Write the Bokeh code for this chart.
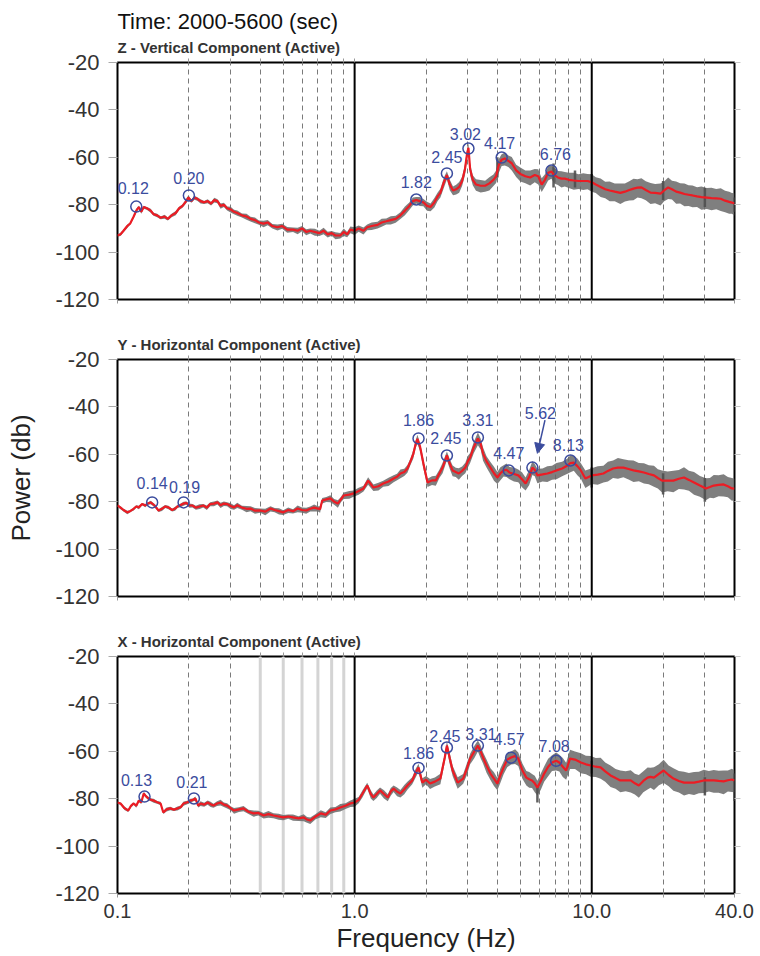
from bokeh.plotting import figure
from bokeh.layouts import column
from bokeh.models import (Range1d, FixedTicker, LogAxis, LinearAxis, Span, Title,
                          PrintfTickFormatter, ColumnDataSource, Arrow, NormalHead)
from bokeh.embed import file_html
from bokeh.resources import INLINE
from bokeh.core.properties import value

# ---------------- data ----------------
time_title = "Time: 2000-5600 (sec)"
subtitles = ["Z - Vertical Component (Active)",
             "Y - Horizontal Component (Active)",
             "X - Horizontal Component (Active)"]
x_label = "Frequency (Hz)"
y_label = "Power (db)"
x_tick_labels = [0.1, 1.0, 10.0, 40.0]
x_minor_ticks = [0.2, 0.3, 0.4, 0.5, 0.6, 0.7, 0.8, 0.9,
                 2, 3, 4, 5, 6, 7, 8, 9, 20, 30]
y_ticks = [-120, -100, -80, -60, -40, -20]

# Z component
z_freq = [0.100, 0.103, 0.106, 0.110, 0.113, 0.117, 0.120, 0.123, 0.126, 0.129,
          0.133, 0.138, 0.142, 0.147, 0.152, 0.158, 0.163, 0.169, 0.176, 0.182,
          0.188, 0.193, 0.199, 0.205, 0.211, 0.217, 0.224, 0.232, 0.240, 0.248,
          0.256, 0.264, 0.272, 0.281, 0.290, 0.300, 0.310, 0.320, 0.335, 0.350,
          0.364, 0.380, 0.395, 0.413, 0.430, 0.450, 0.473, 0.495, 0.520, 0.550,
          0.575, 0.600, 0.625, 0.650, 0.680, 0.710, 0.740, 0.770, 0.800, 0.830,
          0.870, 0.900, 0.930, 0.960, 1.00, 1.04, 1.09, 1.13, 1.18, 1.25,
          1.30, 1.36, 1.42, 1.49, 1.56, 1.63, 1.70, 1.76, 1.82, 1.88,
          1.95, 2.02, 2.09, 2.17, 2.24, 2.30, 2.38, 2.45, 2.52, 2.60,
          2.68, 2.76, 2.84, 2.92, 2.98, 3.02, 3.07, 3.15, 3.25, 3.40,
          3.55, 3.70, 3.85, 3.95, 4.05, 4.17, 4.30, 4.45, 4.60, 4.80,
          5.00, 5.25, 5.50, 5.75, 5.95, 6.15, 6.35, 6.55, 6.76, 6.95,
          7.20, 7.45, 7.70, 8.00, 8.40, 8.80, 9.20, 9.60, 10.0, 10.4,
          10.9, 11.4, 11.9, 12.5, 13.2, 13.8, 14.4, 15.0, 15.6, 16.2,
          16.9, 17.7, 18.5, 19.5, 20.2, 21.0, 21.8, 22.7, 23.6, 24.6,
          25.6, 26.6, 27.8, 29.0, 30.6, 32.0, 33.5, 35.0, 36.5, 38.0,
          39.0, 40.0]
z_power = [-93.0, -92.5, -91.0, -89.0, -88.0, -85.0, -82.5, -81.0, -83.0, -81.0,
           -81.5, -82.5, -84.0, -84.5, -85.5, -85.0, -86.0, -84.5, -83.5, -81.5,
           -80.5, -79.0, -77.0, -78.5, -77.0, -77.5, -78.5, -79.0, -78.5, -79.5,
           -78.0, -78.5, -80.5, -80.0, -81.5, -82.0, -83.0, -83.5, -84.5, -85.0,
           -86.0, -86.5, -87.5, -88.0, -87.5, -89.0, -89.5, -89.0, -90.5, -90.5,
           -91.0, -90.0, -91.5, -91.0, -91.5, -92.0, -91.0, -92.5, -92.0, -93.0,
           -93.0, -91.5, -92.5, -90.5, -91.0, -90.0, -91.0, -89.5, -89.0, -88.5,
           -87.5, -87.0, -86.5, -86.0, -84.5, -82.5, -80.5, -78.5, -78.0, -78.5,
           -79.0, -80.5, -81.0, -79.0, -76.5, -75.0, -70.5, -67.5, -71.5, -74.0,
           -73.5, -72.5, -70.0, -65.0, -58.5, -56.0, -65.0, -69.5, -71.5, -72.0,
           -72.0, -71.0, -69.5, -68.0, -63.5, -61.0, -60.5, -61.5, -62.5, -65.5,
           -67.0, -68.0, -68.5, -67.5, -68.0, -71.5, -69.5, -66.5, -66.0, -67.5,
           -68.5, -69.0, -69.0, -69.5, -69.8, -70.0, -70.0, -70.0, -70.5, -71.5,
           -72.5, -73.5, -74.0, -74.5, -75.0, -74.5, -73.8, -73.2, -72.8, -72.7,
           -73.8, -74.9, -75.0, -75.3, -74.0, -72.7, -73.5, -74.5, -74.9, -75.5,
           -75.8, -76.1, -76.5, -76.8, -77.0, -77.2, -77.3, -77.5, -78.3, -78.8,
           -79.1, -79.5]
z_spread = [0.5, 0.7, 0.6, 0.8, 0.5, 0.7, 0.9, 0.6, 0.8, 0.7,
            0.6, 0.9, 0.7, 0.8, 0.6, 0.9, 0.7, 0.8, 1.0, 0.7,
            0.8, 0.9, 1.1, 0.7, 0.9, 0.8, 1.0, 0.7, 0.9, 0.8,
            1.1, 0.9, 1.2, 1.0, 0.9, 1.3, 1.0, 1.2, 0.9, 1.4,
            1.1, 1.3, 1.0, 1.5, 1.2, 1.0, 1.4, 1.1, 1.3, 1.0,
            1.5, 1.2, 1.4, 1.1, 1.6, 1.2, 1.5, 1.3, 1.1, 1.6,
            1.3, 1.7, 1.2, 1.5, 1.8, 1.4, 1.6, 1.3, 1.7, 1.5,
            1.8, 1.4, 1.9, 1.6, 1.5, 2.0, 1.7, 1.8, 1.5, 2.0,
            1.7, 2.1, 1.8, 2.2, 1.9, 2.0, 2.3, 1.9, 2.4, 2.0,
            2.2, 2.5, 2.1, 2.6, 2.2, 2.4, 2.7, 2.3, 2.6, 2.9,
            2.5, 3.0, 2.6, 2.8, 3.2, 2.7, 3.0, 2.6, 3.1, 2.8,
            3.2, 2.9, 3.4, 3.0, 3.5, 3.1, 2.8, 3.3, 3.0, 3.6,
            3.2, 3.7, 3.3, 3.5, 3.9, 3.4, 3.8, 3.5, 4.0, 3.6,
            4.2, 3.8, 4.5, 4.0, 4.7, 4.1, 4.4, 4.9, 4.2, 4.6,
            4.3, 4.8, 4.4, 5.0, 4.5, 4.9, 4.3, 5.1, 4.6, 5.2,
            4.7, 5.0, 4.5, 5.3, 4.8, 5.1, 4.6, 5.2, 4.9, 5.0,
            4.7, 5.1]
z_spike_freq = [4.0, 6.9, 8.5, 10.0, 20.0, 30.0, 40.0]
z_spike_lo = [-68.5, -72.7, -72.7, -74.0, -78.0, -81.0, -83.0]
z_spike_hi = [-60.0, -62.6, -65.6, -67.0, -70.0, -73.0, -77.0]
z_peak_freq = [0.12, 0.20, 1.82, 2.45, 3.02, 4.17, 6.76]
z_peak_db = [-80.8, -76.1, -77.8, -66.8, -56.3, -60.1, -65.6]
z_peak_text = ["0.12", "0.20", "1.82", "2.45", "3.02", "4.17", "6.76"]

# Y component
y_freq = [0.100, 0.103, 0.106, 0.110, 0.113, 0.117, 0.120, 0.123, 0.127, 0.131,
          0.134, 0.138, 0.143, 0.149, 0.154, 0.159, 0.164, 0.170, 0.175, 0.179,
          0.184, 0.190, 0.195, 0.201, 0.207, 0.214, 0.222, 0.230, 0.238, 0.246,
          0.255, 0.264, 0.272, 0.281, 0.290, 0.300, 0.310, 0.320, 0.335, 0.350,
          0.364, 0.380, 0.400, 0.420, 0.442, 0.460, 0.480, 0.500, 0.525, 0.550,
          0.575, 0.600, 0.625, 0.650, 0.675, 0.700, 0.715, 0.730, 0.760, 0.790,
          0.820, 0.850, 0.875, 0.900, 0.950, 0.990, 1.04, 1.09, 1.14, 1.20,
          1.26, 1.32, 1.39, 1.46, 1.51, 1.56, 1.62, 1.67, 1.72, 1.77,
          1.81, 1.84, 1.89, 1.95, 2.03, 2.12, 2.20, 2.28, 2.35, 2.45,
          2.52, 2.59, 2.67, 2.75, 2.84, 2.93, 3.00, 3.07, 3.18, 3.31,
          3.40, 3.48, 3.60, 3.74, 3.87, 4.00, 4.12, 4.25, 4.37, 4.50,
          4.70, 4.90, 5.08, 5.26, 5.45, 5.62, 5.75, 5.90, 6.20, 6.50,
          6.80, 7.10, 7.50, 7.90, 8.13, 8.40, 8.70, 9.00, 9.40, 10.0,
          10.6, 11.2, 11.7, 12.3, 12.9, 13.6, 14.3, 15.0, 15.8, 16.6,
          17.4, 18.3, 19.0, 19.8, 20.9, 22.1, 23.3, 24.5, 25.7, 27.0,
          28.6, 30.3, 31.5, 32.7, 34.3, 36.0, 37.5, 39.0, 40.0]
y_power = [-81.6, -82.5, -83.5, -84.5, -84.0, -83.0, -82.0, -82.4, -81.0, -81.6,
           -80.8, -80.3, -81.5, -83.7, -83.0, -82.0, -82.4, -83.5, -82.9, -82.0,
           -81.5, -80.8, -80.5, -81.6, -81.6, -82.5, -82.0, -81.6, -82.5, -81.0,
           -80.8, -80.3, -81.5, -80.8, -81.0, -81.8, -82.4, -81.5, -82.5, -83.0,
           -82.9, -83.8, -83.7, -84.2, -82.9, -83.5, -84.0, -84.5, -83.5, -84.0,
           -82.9, -83.5, -83.7, -83.0, -82.5, -82.9, -83.2, -79.5, -79.0, -78.6,
           -80.0, -80.8, -79.0, -77.4, -77.0, -76.5, -75.5, -74.4, -71.1, -74.0,
           -73.5, -72.3, -71.5, -70.2, -69.5, -68.1, -67.5, -66.0, -63.0, -59.7,
           -55.5, -53.5, -57.0, -63.9, -71.9, -71.0, -71.0, -68.0, -65.6, -60.5,
           -64.0, -66.8, -67.5, -68.1, -67.0, -65.6, -63.0, -61.4, -57.0, -53.3,
           -55.5, -59.7, -63.0, -65.6, -68.0, -69.8, -68.0, -66.8, -66.5, -67.7,
           -68.3, -68.9, -70.5, -72.3, -69.5, -65.6, -66.5, -68.9, -68.5, -68.1,
           -67.5, -66.8, -66.0, -64.7, -63.7, -63.5, -65.0, -66.8, -70.2, -68.9,
           -68.6, -68.1, -67.0, -66.0, -65.6, -65.6, -66.2, -66.8, -67.2, -67.7,
           -68.3, -68.9, -70.0, -71.1, -71.1, -71.1, -70.3, -69.8, -70.8, -71.9,
           -73.2, -74.4, -73.8, -73.2, -72.9, -72.7, -73.5, -74.4, -74.5]
y_spread = [0.5, 0.7, 0.6, 0.8, 0.5, 0.7, 0.6, 0.8, 0.5, 0.7,
            0.6, 0.8, 0.7, 0.6, 0.9, 0.7, 0.8, 0.6, 0.9, 0.7,
            0.8, 0.9, 0.7, 1.0, 0.8, 0.9, 1.1, 0.8, 1.0, 0.9,
            1.1, 0.9, 1.2, 1.0, 0.9, 1.3, 1.0, 1.2, 0.9, 1.4,
            1.1, 1.3, 1.0, 1.5, 1.2, 1.0, 1.4, 1.1, 1.3, 1.0,
            1.5, 1.2, 1.4, 1.1, 1.6, 1.2, 1.5, 1.3, 1.1, 1.6,
            1.3, 1.7, 1.2, 1.5, 1.8, 1.4, 1.6, 1.3, 1.7, 1.5,
            1.8, 1.4, 1.9, 1.6, 1.5, 2.0, 1.7, 1.8, 1.5, 2.0,
            1.7, 2.1, 1.8, 2.2, 1.9, 2.0, 2.3, 1.9, 2.4, 2.0,
            2.2, 2.5, 2.1, 2.6, 2.2, 2.4, 2.7, 2.3, 2.6, 2.9,
            2.5, 3.0, 2.6, 2.8, 3.2, 2.7, 3.0, 2.6, 3.1, 2.8,
            3.2, 2.9, 3.4, 3.0, 3.5, 3.1, 2.8, 3.3, 3.0, 3.6,
            3.2, 3.7, 3.3, 3.5, 3.9, 3.4, 3.8, 3.5, 4.0, 3.6,
            4.2, 3.8, 4.5, 4.0, 4.7, 4.1, 4.4, 4.9, 4.2, 4.6,
            4.3, 4.8, 4.4, 5.0, 4.5, 4.9, 4.3, 5.1, 4.6, 5.2,
            4.7, 5.0, 4.5, 5.3, 4.8, 5.1, 4.6, 5.2, 4.9]
y_spike_freq = [10.0, 20.0, 30.0]
y_spike_lo = [-74.0, -77.0, -80.0]
y_spike_hi = [-65.6, -68.0, -70.0]
y_peak_freq = [0.14, 0.19, 1.86, 2.45, 3.31, 4.47, 5.62, 8.13]
y_peak_db = [-80.3, -80.3, -53.3, -60.5, -52.9, -66.8, -65.6, -62.6]
y_peak_text = ["0.14", "0.19", "1.86", "2.45", "3.31", "4.47", "5.62", "8.13"]

# X component
x_freq = [0.100, 0.103, 0.107, 0.111, 0.114, 0.117, 0.120, 0.123, 0.126, 0.129,
          0.132, 0.135, 0.139, 0.142, 0.147, 0.152, 0.156, 0.161, 0.167, 0.173,
          0.179, 0.185, 0.190, 0.197, 0.203, 0.208, 0.213, 0.219, 0.224, 0.232,
          0.240, 0.247, 0.254, 0.263, 0.272, 0.281, 0.290, 0.300, 0.310, 0.325,
          0.340, 0.357, 0.375, 0.393, 0.413, 0.433, 0.455, 0.478, 0.500, 0.525,
          0.550, 0.580, 0.610, 0.630, 0.650, 0.685, 0.720, 0.755, 0.790, 0.830,
          0.870, 0.915, 0.960, 1.00, 1.04, 1.08, 1.13, 1.17, 1.20, 1.24,
          1.28, 1.33, 1.38, 1.42, 1.46, 1.51, 1.56, 1.62, 1.67, 1.75,
          1.80, 1.86, 1.93, 2.00, 2.08, 2.18, 2.30, 2.40, 2.45, 2.52,
          2.59, 2.72, 2.87, 2.97, 3.07, 3.20, 3.31, 3.40, 3.48, 3.60,
          3.74, 3.87, 4.00, 4.12, 4.25, 4.40, 4.57, 4.75, 4.90, 5.10,
          5.30, 5.45, 5.60, 5.75, 5.90, 6.10, 6.30, 6.55, 6.80, 7.08,
          7.30, 7.55, 7.80, 8.10, 8.50, 9.00, 9.45, 9.90, 10.4, 10.9,
          11.4, 12.0, 12.6, 13.2, 13.9, 14.6, 15.2, 15.8, 16.5, 17.2,
          17.7, 18.3, 19.2, 20.1, 21.1, 22.1, 23.3, 24.5, 25.7, 27.0,
          28.3, 29.7, 31.2, 32.7, 34.3, 36.0, 37.5, 39.0, 40.0]
x_power = [-81.6, -82.0, -84.0, -85.0, -83.0, -82.0, -83.0, -80.8, -81.5, -77.8,
           -79.0, -79.9, -80.5, -80.8, -81.5, -82.0, -85.8, -84.5, -84.1, -84.6,
           -84.1, -83.5, -82.0, -81.5, -80.8, -80.5, -79.9, -82.9, -82.0, -82.5,
           -81.6, -82.3, -82.9, -82.0, -81.6, -82.5, -82.9, -84.0, -85.0, -84.5,
           -84.1, -85.5, -86.2, -86.0, -87.1, -86.5, -87.1, -87.5, -87.9, -87.5,
           -87.9, -88.3, -87.9, -88.8, -89.2, -87.5, -86.2, -86.8, -85.0, -84.5,
           -83.7, -83.0, -82.0, -81.6, -80.5, -77.8, -74.4, -78.0, -79.5, -78.0,
           -76.5, -78.0, -79.5, -77.0, -75.7, -77.0, -77.8, -76.0, -74.4, -72.3,
           -69.5, -66.8, -73.2, -72.0, -73.6, -72.8, -71.5, -62.6, -57.6, -63.0,
           -68.1, -73.2, -71.5, -67.5, -63.1, -60.0, -57.6, -60.0, -62.6, -66.0,
           -69.4, -71.5, -73.6, -70.0, -66.8, -63.5, -62.6, -62.0, -63.1, -68.1,
           -71.1, -71.8, -72.3, -73.5, -75.3, -72.5, -69.4, -66.5, -64.7, -64.0,
           -64.7, -66.5, -68.1, -63.1, -63.5, -64.7, -65.5, -66.0, -66.5, -66.8,
           -68.5, -70.2, -71.3, -72.3, -72.3, -72.3, -73.5, -74.4, -72.5, -71.1,
           -70.8, -71.1, -69.5, -68.1, -70.0, -71.5, -72.5, -73.2, -73.2, -73.2,
           -72.8, -72.3, -72.3, -72.3, -72.5, -72.7, -72.2, -71.9, -72.3]
x_spread = [0.6, 0.5, 0.8, 0.6, 0.7, 0.5, 0.8, 0.6, 0.7, 0.9,
            0.6, 0.8, 0.7, 0.9, 0.6, 0.8, 0.7, 0.9, 0.8, 0.6,
            0.9, 0.7, 1.0, 0.8, 0.9, 0.7, 1.0, 0.8, 1.1, 0.9,
            1.0, 1.2, 0.9, 1.1, 1.3, 1.0, 1.2, 0.9, 1.3, 1.1,
            1.2, 1.0, 1.4, 1.1, 1.3, 1.5, 1.1, 1.4, 1.2, 1.0,
            1.4, 1.1, 1.6, 1.3, 1.5, 1.2, 1.6, 1.3, 1.5, 1.2,
            1.7, 1.3, 1.5, 1.8, 1.4, 1.6, 1.3, 1.9, 1.5, 1.7,
            1.4, 1.9, 1.6, 1.8, 1.5, 2.0, 1.7, 2.1, 1.8, 1.6,
            2.0, 1.8, 2.2, 1.9, 2.3, 2.0, 2.4, 2.1, 2.0, 2.5,
            2.3, 2.6, 2.2, 2.7, 2.4, 2.8, 2.5, 2.9, 2.6, 3.0,
            2.7, 3.1, 2.8, 3.3, 2.9, 3.2, 3.0, 3.4, 3.1, 3.5,
            3.3, 3.6, 3.2, 3.8, 3.4, 3.7, 3.5, 4.0, 3.6, 4.1,
            3.8, 4.3, 3.9, 4.4, 4.0, 4.6, 4.2, 4.7, 4.3, 4.8,
            4.4, 4.9, 4.5, 5.0, 4.6, 5.1, 4.7, 5.2, 4.8, 5.0,
            4.6, 5.2, 4.8, 5.3, 4.7, 5.1, 4.9, 5.4, 4.8, 5.2,
            4.9, 5.3, 4.7, 5.2, 5.0, 5.4, 4.8, 5.3, 5.0]
x_spike_freq = [5.9, 10.0, 30.0, 40.0]
x_spike_lo = [-81.6, -69.4, -78.6, -81.0]
x_spike_hi = [-75.0, -64.0, -71.0, -69.4]
x_peak_freq = [0.13, 0.21, 1.86, 2.45, 3.31, 4.57, 7.08]
x_peak_db = [-79.1, -79.9, -67.0, -58.4, -57.6, -62.7, -64.0]
x_peak_text = ["0.13", "0.21", "1.86", "2.45", "3.31", "4.57", "7.08"]

# ---------------- styles ----------------
FONT = "Liberation Sans"
RED = "#ec1c24"
BLUE = "#3b4c9e"
GREY = "#686868"
z_lab_dx = [-3, 0, 0, 0, -3, -2, 4]
z_lab_dy = [-19, -17, -17, -16, -15, -15, -17]
y_lab_dx = [0, 1, 0, -1, 0, 0, 8, -2]
y_lab_dy = [-19, -15, -18, -17, -17, -17, -55, -15]
x_lab_dx = [-8, -2, 0, -2, 3, -2, -2]
x_lab_dy = [-17, -16, -15, -12, -12, -19, -15]


def make_panel(height, top, bottom, subtitle, freq, power, spread,
               sp_f, sp_lo, sp_hi, pk_f, pk_db, pk_txt, dx, dy,
               bottom_labels=False, ylab=None, time_t=None, light_lines=None):
    p = figure(width=760, height=height, x_axis_type="log",
               x_range=Range1d(0.1, 40), y_range=Range1d(-120, -20),
               output_backend="svg", toolbar_location=None,
               min_border_left=117, min_border_right=26,
               min_border_top=top, min_border_bottom=bottom,
               background_fill_color="white", border_fill_color="white")
    p.outline_line_color = "black"
    p.outline_line_width = 2
    p.outline_line_alpha = 1.0

    # grid
    p.ygrid.visible = False
    p.xgrid.ticker = FixedTicker(ticks=x_minor_ticks)
    p.xgrid.grid_line_color = "#7a7a7a"
    p.xgrid.grid_line_dash = "5 4"
    p.xgrid.grid_line_width = 1
    if light_lines:
        for f in light_lines:
            p.add_layout(Span(location=f, dimension="height", line_color="#d4d4d4",
                              line_width=3, level="underlay"))
    for f in (1.0, 10.0):
        p.add_layout(Span(location=f, dimension="height", line_color="black",
                          line_width=2))

    # bottom axis
    ax = p.xaxis[0]
    ax.axis_line_color = None
    ax.major_tick_in = 0
    ax.major_tick_out = 4
    ax.minor_tick_in = 0
    ax.minor_tick_out = 4
    ax.major_tick_line_color = "#999999"
    ax.minor_tick_line_color = "#999999"
    if bottom_labels:
        ax.ticker = FixedTicker(ticks=x_tick_labels, minor_ticks=x_minor_ticks)
        ax.formatter = PrintfTickFormatter(format="%.1f")
        ax.major_label_text_font_size = "20px"
        ax.major_label_text_font = FONT
        ax.major_label_text_color = "#333333"
        ax.major_label_standoff = 6
        ax.axis_label = x_label
        ax.axis_label_text_font_size = "26px"
        ax.axis_label_text_font_style = "normal"
        ax.axis_label_text_font = FONT
        ax.axis_label_text_color = "#222222"
        ax.axis_label_standoff = 2
    else:
        # ticks only: every position as a minor tick, so no labels are drawn
        ax.ticker = FixedTicker(ticks=[], minor_ticks=x_tick_labels + x_minor_ticks)
        ax.major_label_standoff = 0

    # left axis
    ay = p.yaxis[0]
    ay.ticker = FixedTicker(ticks=y_ticks)
    ay.formatter = PrintfTickFormatter(format="%d")
    ay.axis_line_color = None
    ay.major_tick_in = 0
    ay.major_tick_out = 9
    ay.minor_tick_out = 0
    ay.minor_tick_in = 0
    ay.major_tick_line_color = "#aaaaaa"
    ay.major_label_text_font_size = "22px"
    ay.major_label_text_font = FONT
    ay.major_label_text_color = "#333333"
    ay.major_label_standoff = 9
    if ylab:
        ay.axis_label = ylab
        ay.axis_label_text_font_size = "26px"
        ay.axis_label_text_font_style = "normal"
        ay.axis_label_text_font = FONT
        ay.axis_label_text_color = "#222222"
        ay.axis_label_standoff = 16

    # right axis (ticks only)
    ar = LinearAxis(ticker=FixedTicker(ticks=[], minor_ticks=y_ticks), axis_line_color=None,
                    major_tick_in=0, major_tick_out=0, minor_tick_in=0, minor_tick_out=6,
                    minor_tick_line_color="#c8c8c8", major_label_standoff=0)
    p.add_layout(ar, "right")
    # top axis (ticks only)
    at = LogAxis(ticker=FixedTicker(ticks=[], minor_ticks=x_minor_ticks + [1, 10]),
                 axis_line_color=None, major_tick_in=0, major_tick_out=0,
                 minor_tick_in=0, minor_tick_out=4, minor_tick_line_color="#999999",
                 major_label_standoff=0)
    p.add_layout(at, "above")

    p.add_layout(Title(text=subtitle, align="left", text_font_size="15px",
                       text_font_style="bold", text_font=FONT, text_color="#333333",
                       standoff=6), "above")
    if time_t:
        p.add_layout(Title(text=time_t, align="left", text_font_size="22px",
                           text_font_style="normal", text_font=FONT, text_color="#111111",
                           standoff=0), "above")

    lo = [pw - s for pw, s in zip(power, spread)]
    hi = [pw + s * 0.85 for pw, s in zip(power, spread)]
    p.varea(x=freq, y1=lo, y2=hi, fill_color=GREY, fill_alpha=0.85)
    p.segment(x0=sp_f, y0=sp_lo, x1=sp_f, y1=sp_hi, line_color="#505050",
              line_width=2.5, line_alpha=0.9)
    p.line(freq, power, line_color=RED, line_width=2.2)

    src = ColumnDataSource(dict(x=pk_f, y=pk_db, t=pk_txt, dx=dx, dy=dy))
    p.scatter("x", "y", source=src, marker="circle", size=11, fill_color=None,
              line_color=BLUE, line_width=1.5)
    p.text("x", "y", text="t", x_offset="dx", y_offset="dy", source=src,
           text_align="center", text_baseline="middle", text_font=value(FONT),
           text_font_size="16px", text_color=BLUE)
    return p


p1 = make_panel(320, 62, 21, subtitles[0], z_freq, z_power, z_spread,
                z_spike_freq, z_spike_lo, z_spike_hi,
                z_peak_freq, z_peak_db, z_peak_text, z_lab_dx, z_lab_dy,
                time_t=time_title)
p2 = make_panel(297, 39, 21, subtitles[1], y_freq, y_power, y_spread,
                y_spike_freq, y_spike_lo, y_spike_hi,
                y_peak_freq, y_peak_db, y_peak_text, y_lab_dx, y_lab_dy,
                ylab=y_label)
# arrow from the 5.62 label down to its peak
i562 = y_peak_text.index("5.62")
f0, d0 = y_peak_freq[i562], y_peak_db[i562]
p2.add_layout(Arrow(end=NormalHead(size=10, fill_color=BLUE, line_color=BLUE),
                    x_start=f0 * 1.13, y_start=d0 + 20, x_end=f0 * 1.05, y_end=d0 + 6,
                    line_color=BLUE, line_width=1.5))
p3 = make_panel(339, 39, 63, subtitles[2], x_freq, x_power, x_spread,
                x_spike_freq, x_spike_lo, x_spike_hi,
                x_peak_freq, x_peak_db, x_peak_text, x_lab_dx, x_lab_dy,
                bottom_labels=True, light_lines=[0.4, 0.5, 0.6, 0.7, 0.8, 0.9])

layout = column(p1, p2, p3, spacing=0)
open("out.html", "w").write(file_html(layout, INLINE))
